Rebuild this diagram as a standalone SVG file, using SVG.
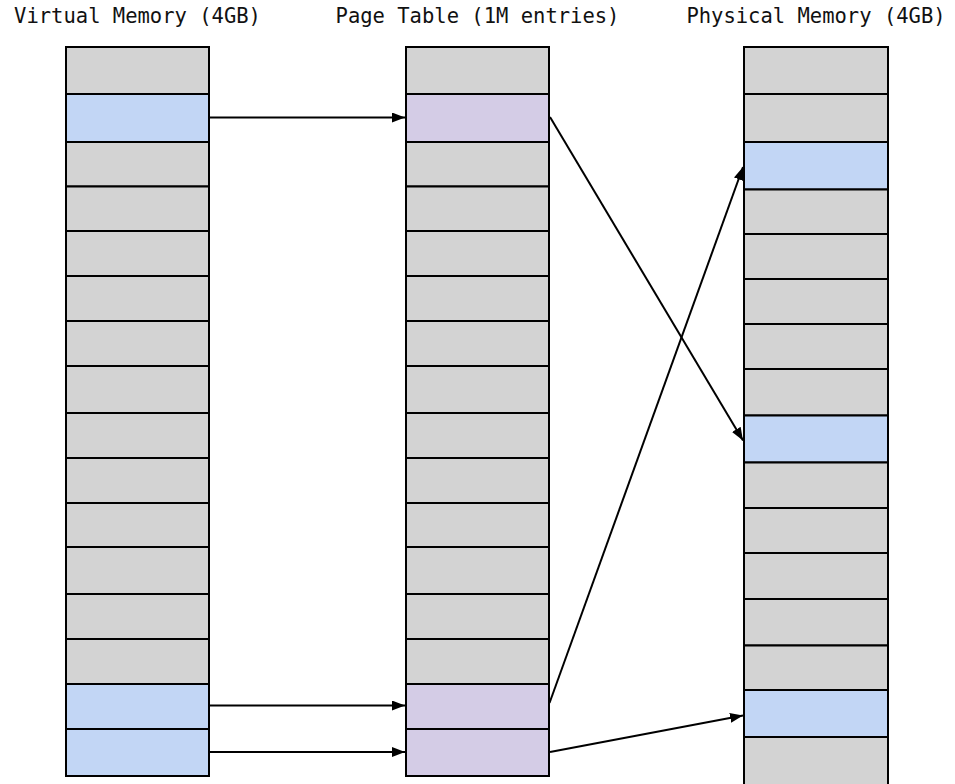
<svg xmlns="http://www.w3.org/2000/svg" width="955" height="784" viewBox="0 0 955 784">
<style>
.t{font-family:"DejaVu Sans Mono","Liberation Mono",monospace;font-size:20.5px;fill:#111;text-anchor:middle}
.g{fill:#d3d3d3;stroke:#000;stroke-width:2}
.b{fill:#c2d6f5;stroke:#000;stroke-width:2}
.p{fill:#d4cce6;stroke:#000;stroke-width:2}
.c{stroke:#000;stroke-width:2;fill:none;marker-end:url(#ah)}
</style>
<defs>
<marker id="ah" markerUnits="userSpaceOnUse" markerWidth="13" markerHeight="10" refX="13" refY="5" orient="auto">
<path d="M0,0 L13,5 L0,10 z" fill="#000"/>
</marker>
</defs>
<rect width="955" height="784" fill="#fff"/>
<g id="virtual">
<text class="t" x="137.5" y="23">Virtual Memory (4GB)</text>
<rect class="g" x="66" y="47" width="143" height="47"/>
<rect class="b" x="66" y="94" width="143" height="48"/>
<rect class="g" x="66" y="142" width="143" height="44.5"/>
<rect class="g" x="66" y="186.5" width="143" height="44.5"/>
<rect class="g" x="66" y="231" width="143" height="45"/>
<rect class="g" x="66" y="276" width="143" height="45"/>
<rect class="g" x="66" y="321" width="143" height="45"/>
<rect class="g" x="66" y="366" width="143" height="47"/>
<rect class="g" x="66" y="413" width="143" height="45"/>
<rect class="g" x="66" y="458" width="143" height="45"/>
<rect class="g" x="66" y="503" width="143" height="44"/>
<rect class="g" x="66" y="547" width="143" height="47"/>
<rect class="g" x="66" y="594" width="143" height="45"/>
<rect class="g" x="66" y="639" width="143" height="45"/>
<rect class="b" x="66" y="684" width="143" height="45"/>
<rect class="b" x="66" y="729" width="143" height="47"/>
</g>
<g id="pagetable">
<text class="t" x="477.5" y="23">Page Table (1M entries)</text>
<rect class="g" x="406" y="47" width="143" height="47"/>
<rect class="p" x="406" y="94" width="143" height="48"/>
<rect class="g" x="406" y="142" width="143" height="44.5"/>
<rect class="g" x="406" y="186.5" width="143" height="44.5"/>
<rect class="g" x="406" y="231" width="143" height="45"/>
<rect class="g" x="406" y="276" width="143" height="45"/>
<rect class="g" x="406" y="321" width="143" height="45"/>
<rect class="g" x="406" y="366" width="143" height="47"/>
<rect class="g" x="406" y="413" width="143" height="45"/>
<rect class="g" x="406" y="458" width="143" height="45"/>
<rect class="g" x="406" y="503" width="143" height="44"/>
<rect class="g" x="406" y="547" width="143" height="47"/>
<rect class="g" x="406" y="594" width="143" height="45"/>
<rect class="g" x="406" y="639" width="143" height="45"/>
<rect class="p" x="406" y="684" width="143" height="45"/>
<rect class="p" x="406" y="729" width="143" height="47"/>
</g>
<g id="physical">
<text class="t" x="816" y="23">Physical Memory (4GB)</text>
<rect class="g" x="744" y="47" width="144" height="47"/>
<rect class="g" x="744" y="94" width="144" height="48"/>
<rect class="b" x="744" y="142" width="144" height="47.5"/>
<rect class="g" x="744" y="189.5" width="144" height="44.5"/>
<rect class="g" x="744" y="234" width="144" height="45"/>
<rect class="g" x="744" y="279" width="144" height="45"/>
<rect class="g" x="744" y="324" width="144" height="45"/>
<rect class="g" x="744" y="369" width="144" height="46.5"/>
<rect class="b" x="744" y="415.5" width="144" height="47"/>
<rect class="g" x="744" y="462.5" width="144" height="45.5"/>
<rect class="g" x="744" y="508" width="144" height="45"/>
<rect class="g" x="744" y="553" width="144" height="46"/>
<rect class="g" x="744" y="599" width="144" height="46.5"/>
<rect class="g" x="744" y="645.5" width="144" height="44.5"/>
<rect class="b" x="744" y="690" width="144" height="47"/>
<rect class="g" x="744" y="737" width="144" height="48"/>
</g>
<g id="connectors">
<line class="c" x1="210" y1="117.5" x2="405" y2="117.5"/>
<line class="c" x1="210" y1="705.5" x2="405" y2="705.5"/>
<line class="c" x1="210" y1="752" x2="405" y2="752"/>
<line class="c" x1="550" y1="117" x2="743" y2="440.5"/>
<line class="c" x1="549.5" y1="703" x2="743" y2="167"/>
<line class="c" x1="550" y1="752" x2="743" y2="715.5"/>
</g>
</svg>
